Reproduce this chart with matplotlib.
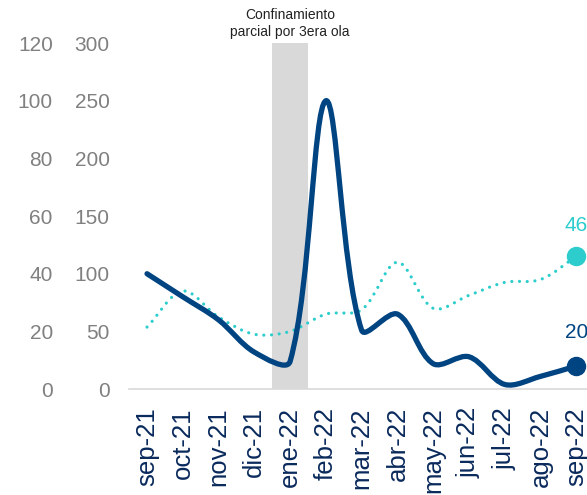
import matplotlib
matplotlib.use("Agg")
import numpy as np
import matplotlib.pyplot as plt
from matplotlib.path import Path
from matplotlib.patches import PathPatch
import matplotlib.transforms as mtransforms

plt.rcParams['font.family'] = ['Liberation Sans', 'DejaVu Sans']

months = ['sep-21', 'oct-21', 'nov-21', 'dic-21', 'ene-22', 'feb-22', 'mar-22',
          'abr-22', 'may-22', 'jun-22', 'jul-22', 'ago-22', 'sep-22']
# dark blue series, inner left axis (0-300)
dark_values = [100, 80, 60, 32, 24, 250, 51, 65, 22, 28, 4, 11, 20]
# teal dotted series, outer left axis (0-120)
teal_values = [21.5, 34, 25, 19, 20, 26, 27.5, 44, 28, 32.5, 37, 38, 46]
band_month = 'ene-22'
band_label = 'Confinamiento\nparcial por 3era ola'

DARK = '#004481'
TEAL = '#2DCCCD'
GREY = '#808080'
NAVY = '#0A2A5C'


def smooth_path(ax, xs, ys, s=1 / 3):
    # Excel-like smoothed line: chord-weighted cubic Bezier, built in screen space
    P = ax.transData.transform(np.column_stack([xs, ys]))
    n = len(P)
    d = np.hypot(*np.diff(P, axis=0).T)
    verts = [P[0]]
    codes = [Path.MOVETO]
    for i in range(n - 1):
        i0, i3 = max(i - 1, 0), min(i + 2, n - 1)
        dl = d[i - 1] if i > 0 else 0.0
        dr = d[i + 1] if i + 1 < n - 1 else 0.0
        c1 = P[i] + (P[i + 1] - P[i0]) * s * d[i] / (dl + d[i])
        c2 = P[i + 1] - (P[i3] - P[i]) * s * d[i] / (d[i] + dr)
        verts += [c1, c2, P[i + 1]]
        codes += [Path.CURVE4] * 3
    verts = ax.transData.inverted().transform(np.array(verts))
    return Path(verts, codes)


x = list(range(len(months)))

fig = plt.figure(figsize=(5.87, 4.95), dpi=100)
ax = fig.add_axes([0.22, 0.214, 0.78, 0.699])
ax2 = ax.twinx()

# outer axis (0-120) with teal series and the shaded band
ax.set_ylim(0, 120)
ax.set_xlim(-0.5, 12.3)
ax2.set_ylim(0, 300)
b = months.index(band_month)
ax.axvspan(b - 0.5, b + 0.5, color='#D9D9D9', lw=0, zorder=0)
teal_patch = PathPatch(smooth_path(ax, x, teal_values), fill=False, edgecolor=TEAL,
                       lw=2.3, linestyle=(0, (0.01, 2.4)), capstyle='round',
                       transform=ax.transData, zorder=2)
ax.add_patch(teal_patch)
ax.plot(x[-1], teal_values[-1], 'o', color=TEAL, ms=13, zorder=3)
ax.annotate(f'{teal_values[-1]:.0f}', (x[-1], teal_values[-1]), xytext=(0, 22),
            textcoords='offset points', ha='center', va='center',
            fontsize=15, color=TEAL)

# inner axis (0-300) with dark blue series
dark_patch = PathPatch(smooth_path(ax2, x, dark_values), fill=False, edgecolor=DARK,
                       lw=3.8, capstyle='round', joinstyle='round',
                       transform=ax2.transData, zorder=3)
ax2.add_patch(dark_patch)
ax2.plot(x[-1], dark_values[-1], 'o', color=DARK, ms=13, zorder=4)
ax2.annotate(f'{dark_values[-1]:.0f}', (x[-1], dark_values[-1]), xytext=(0, 24),
             textcoords='offset points', ha='center', va='center',
             fontsize=15, color=DARK)

trans = mtransforms.blended_transform_factory(ax2.transData, ax2.transAxes)
ax2.text(b, 1.012, band_label, transform=trans, ha='center', va='bottom',
         fontsize=10, color='#222222', linespacing=1.25)

# ticks
ax.set_yticks(range(0, 121, 20))
ax2.set_yticks(range(0, 301, 50))
ax2.yaxis.tick_left()
ax.tick_params(axis='y', length=0, pad=55, labelsize=15, labelcolor=GREY)
ax2.tick_params(axis='y', length=0, pad=14, labelsize=15, labelcolor=GREY)
ax.set_xticks(x)
ax.set_xticklabels(months, rotation=90)
ax.tick_params(axis='x', length=0, pad=13, labelsize=18.5, labelcolor=NAVY)

for a in (ax, ax2):
    for s in ('top', 'right', 'left', 'bottom'):
        a.spines[s].set_visible(False)
ax.spines['bottom'].set_visible(True)
ax.spines['bottom'].set_color('#D9D9D9')
ax.spines['bottom'].set_linewidth(1.2)

fig.savefig('out.png', dpi=100)
